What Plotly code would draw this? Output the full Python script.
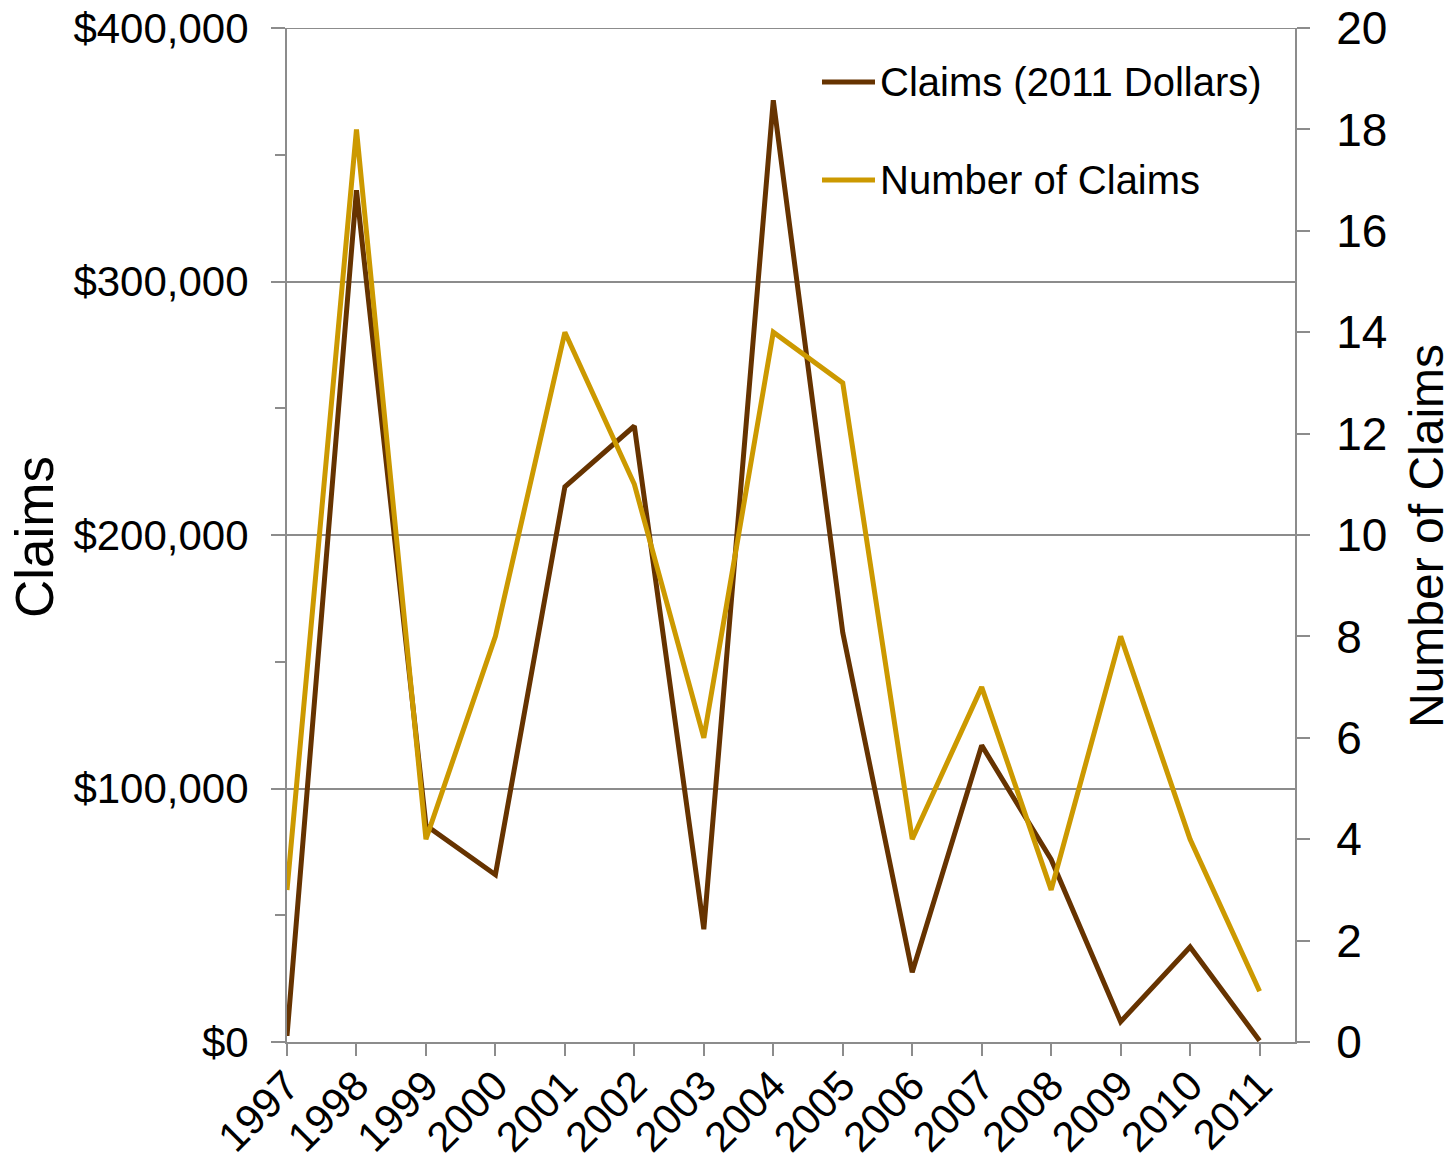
import plotly.graph_objects as go

# Annual liability claims, 1997-2011
years = ["1997", "1998", "1999", "2000", "2001", "2002", "2003", "2004",
         "2005", "2006", "2007", "2008", "2009", "2010", "2011"]
claims_2011_dollars = [2400, 336000, 85500, 66000, 219000, 243000, 44500, 371500,
                       161500, 27500, 117000, 72000, 8000, 37500, 500]
number_of_claims = [3, 18, 4, 8, 14, 11, 6, 14, 13, 4, 7, 3, 8, 4, 1]

BROWN = "#663300"
GOLD = "#CC9900"
GRID = "#8C8C8C"
FONT = "Liberation Sans, Arial, sans-serif"

# plot-area geometry in pixels
W, H = 1455, 1170
L, R, T, B = 287, 160, 28, 128
PW, PH = W - L - R, H - T - B


def px_x(x):
    return (x - L) / PW


def px_y(y):
    return (H - B - y) / PH


x_idx = list(range(len(years)))
series = [
    ("Claims (2011 Dollars)", claims_2011_dollars, BROWN, "y"),
    ("Number of Claims", number_of_claims, GOLD, "y2"),
]

fig = go.Figure()
for name, vals, color, yax in series:
    fig.add_trace(go.Scatter(
        x=x_idx, y=vals, name=name, mode="lines",
        line=dict(color=color, width=5), yaxis=yax, showlegend=False,
    ))

shapes = [
    # top gridline at $400,000
    dict(type="line", xref="paper", yref="y", x0=0, x1=1, y0=400000, y1=400000,
         line=dict(color=GRID, width=2), layer="below"),
]
annotations = [
    dict(text="Claims", xref="paper", yref="paper", x=px_x(34), y=px_y(537),
         xanchor="center", yanchor="middle", textangle=-90,
         showarrow=False, font=dict(size=53)),
    dict(text="Number of Claims", xref="paper", yref="paper", x=px_x(1426), y=px_y(536),
         xanchor="center", yanchor="middle", textangle=-90,
         showarrow=False, font=dict(size=48)),
]

# legend: short line swatch followed by the series name
for (name, vals, color, yax), ly in zip(series, [82, 180]):
    shapes.append(dict(type="line", xref="paper", yref="paper",
                       x0=px_x(822), x1=px_x(875), y0=px_y(ly), y1=px_y(ly),
                       line=dict(color=color, width=5)))
    annotations.append(dict(text=name, xref="paper", yref="paper",
                            x=px_x(878), y=px_y(ly), xanchor="left", yanchor="middle",
                            showarrow=False, font=dict(size=40)))

fig.update_layout(
    width=W, height=H,
    margin=dict(l=L, r=R, t=T, b=B, autoexpand=False),
    paper_bgcolor="white", plot_bgcolor="white",
    font=dict(family=FONT, size=40, color="black"),
    showlegend=False,
    xaxis=dict(
        range=[0, 14.51], tickmode="array", tickvals=x_idx, ticktext=years,
        tickangle=-45, ticks="outside", ticklen=12, tickwidth=2, tickcolor=GRID,
        showline=True, linecolor=GRID, linewidth=2, showgrid=False,
        zeroline=False, tickfont=dict(size=42), automargin=False,
        ticklabelstandoff=-12,
    ),
    yaxis=dict(
        range=[0, 400000], dtick=100000, tickprefix="$", tickformat=",",
        ticks="outside", ticklen=14, tickwidth=2, tickcolor=GRID,
        showline=True, linecolor=GRID, linewidth=2,
        showgrid=True, gridcolor=GRID, gridwidth=2, zeroline=False,
        minor=dict(dtick=50000, ticks="outside", ticklen=10, tickwidth=2,
                   tickcolor=GRID, showgrid=False),
        tickfont=dict(size=42), ticklabelstandoff=14, automargin=False,
    ),
    yaxis2=dict(
        range=[0, 20], dtick=2, overlaying="y", side="right",
        ticks="outside", ticklen=13, tickwidth=2, tickcolor=GRID,
        showline=True, linecolor=GRID, linewidth=2,
        showgrid=False, zeroline=False,
        tickfont=dict(size=46), ticklabelstandoff=17, automargin=False,
    ),
    shapes=shapes,
    annotations=annotations,
)

fig.write_html("out.html")
